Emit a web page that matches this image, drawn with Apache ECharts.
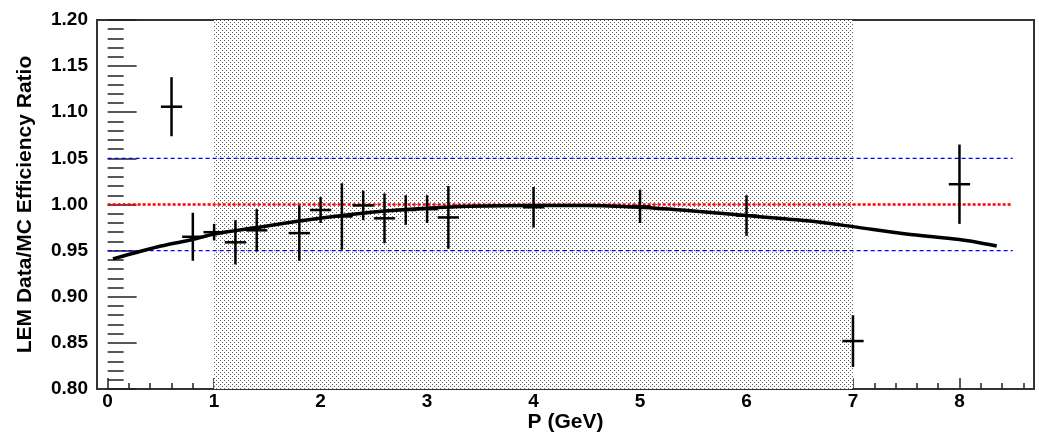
<!DOCTYPE html>
<html>
<head>
<meta charset="utf-8">
<script src="https://cdn.jsdelivr.net/npm/echarts@6/dist/echarts.min.js"></script>
<style>
  html, body { margin: 0; padding: 0; background: #fff; }
  #chart { width: 1039px; height: 436px; }
</style>
</head>
<body>
<div id="chart"></div>
<script>
// Measured efficiency ratio points: momentum, ratio, vertical error, horizontal half-width
const pointP     = [0.6, 0.8, 1.0, 1.2, 1.4, 1.8, 2.0, 2.2, 2.4, 2.6, 2.8, 3.0, 3.2, 4.0, 5.0, 6.0, 7.0, 8.0];
const pointRatio = [1.106, 0.965, 0.970, 0.959, 0.972, 0.969, 0.994, 0.987, 0.999, 0.985, 0.994, 0.995, 0.986, 0.997, 0.998, 0.988, 0.852, 1.022];
const pointErrY  = [0.032, 0.026, 0.009, 0.024, 0.023, 0.030, 0.014, 0.036, 0.016, 0.027, 0.016, 0.015, 0.034, 0.022, 0.018, 0.022, 0.028, 0.043];
const pointErrX  = 0.1;

// Fitted curve samples
const fitP     = [0.05, 0.5, 0.8, 1.0, 1.4, 1.8, 2.2, 2.6, 3.0, 3.4, 4.0, 4.5, 5.0, 5.5, 6.0, 6.3, 6.6, 7.0, 7.5, 8.0, 8.35];
const fitRatio = [0.941, 0.955, 0.962, 0.968, 0.975, 0.982, 0.988, 0.993, 0.996, 0.998, 0.999, 0.999, 0.997, 0.993, 0.988, 0.985, 0.982, 0.976, 0.968, 0.962, 0.955];

// Reference levels and shaded momentum window
const unityLevel = 1.00;
const bandLevels = [1.05, 0.95];
const refRange = [0, 8.5];
const shadeRange = [1, 7];

// Axis ticks
const xMajorTicks = [0, 1, 2, 3, 4, 5, 6, 7, 8];
const xMinorTicks = [];
for (let i = 0; i <= 43; i++) xMinorTicks.push(Math.round(i * 0.2 * 10) / 10);
const xRange = [-0.1, 8.7];
const yRange = [0.80, 1.20];

// Stipple fill for the shaded window
function makeStipple() {
  const c = document.createElement('canvas');
  c.width = 4; c.height = 4;
  const g = c.getContext('2d');
  g.fillStyle = '#ffffff';
  g.fillRect(0, 0, 4, 4);
  g.fillStyle = '#5a5a5a';
  g.fillRect(0, 0, 1, 1);
  g.fillRect(2, 2, 1, 1);
  return c;
}

const FONT = "'Liberation Sans', Arial, Helvetica, sans-serif";

const chart = echarts.init(document.getElementById('chart'), null, { renderer: 'canvas' });

chart.setOption({
  animation: false,
  backgroundColor: '#ffffff',
  grid: {
    left: 97, top: 20, right: 5, bottom: 47,
    outerBoundsMode: 'none', containLabel: false,
    show: true, borderColor: '#333', borderWidth: 2, backgroundColor: 'transparent'
  },
  xAxis: [
    {
      type: 'value', min: xRange[0], max: xRange[1], position: 'bottom',
      name: 'P (GeV)', nameLocation: 'middle', nameGap: 23, nameMoveOverlap: false,
      nameTextStyle: { fontFamily: FONT, fontWeight: 'bold', fontSize: 21, color: '#000' },
      axisLine: { show: false },
      splitLine: { show: false },
      axisTick: { show: true, inside: true, length: 11, customValues: xMajorTicks, lineStyle: { color: '#222', width: 1.5 } },
      axisLabel: { show: true, customValues: xMajorTicks, margin: 3, fontFamily: FONT, fontWeight: 'bold', fontSize: 19, color: '#000' }
    },
    {
      type: 'value', min: xRange[0], max: xRange[1], position: 'bottom',
      axisLine: { show: false },
      splitLine: { show: false },
      axisTick: { show: true, inside: true, length: 6, customValues: xMinorTicks, lineStyle: { color: '#222', width: 1.5 } },
      axisLabel: { show: false }
    }
  ],
  yAxis: {
    type: 'value', min: yRange[0], max: yRange[1], interval: 0.05,
    name: 'LEM Data/MC Efficiency Ratio', nameLocation: 'middle', nameGap: 61, nameMoveOverlap: false,
    nameTextStyle: { fontFamily: FONT, fontWeight: 'bold', fontSize: 21, color: '#000' },
    axisLine: { show: false },
    splitLine: { show: false },
    axisTick: { show: true, inside: true, length: 29, lineStyle: { color: '#222', width: 1.5 } },
    minorTick: { show: true, splitNumber: 5, length: 16, lineStyle: { color: '#222', width: 1.5 } },
    axisLabel: {
      margin: 9, fontFamily: FONT, fontWeight: 'bold', fontSize: 19, color: '#000',
      formatter: v => v.toFixed(2)
    }
  },
  series: [
    {
      // shaded momentum window
      type: 'line', data: [], silent: true, z: 1,
      markArea: {
        silent: true,
        itemStyle: { color: { image: makeStipple(), repeat: 'repeat' } },
        data: [[{ xAxis: shadeRange[0] }, { xAxis: shadeRange[1] }]]
      }
    },
    {
      type: 'line', z: 3, symbol: 'none', silent: true,
      lineStyle: { color: '#0000ff', width: 1.2, type: [4, 3] },
      data: [[refRange[0], bandLevels[0]], [refRange[1], bandLevels[0]]]
    },
    {
      type: 'line', z: 3, symbol: 'none', silent: true,
      lineStyle: { color: '#0000ff', width: 1.2, type: [4, 3] },
      data: [[refRange[0], bandLevels[1]], [refRange[1], bandLevels[1]]]
    },
    {
      type: 'line', z: 3, symbol: 'none', silent: true,
      lineStyle: { color: '#ff0000', width: 2.5, type: [3, 2] },
      data: [[refRange[0], unityLevel], [refRange[1], unityLevel]]
    },
    {
      type: 'line', z: 4, symbol: 'none', silent: true, smooth: 0.3,
      lineStyle: { color: '#000', width: 3.5 },
      data: fitP.map((p, i) => [p, fitRatio[i]])
    },
    {
      type: 'custom', z: 5, silent: true,
      data: pointP.map((p, i) => [p, pointRatio[i], pointErrY[i], pointErrX]),
      renderItem: function (params, api) {
        const x = api.value(0), y = api.value(1), ey = api.value(2), ex = api.value(3);
        const top = api.coord([x, y + ey]);
        const bot = api.coord([x, y - ey]);
        const l = api.coord([x - ex, y]);
        const r = api.coord([x + ex, y]);
        return {
          type: 'group',
          children: [
            { type: 'line', shape: { x1: top[0], y1: top[1], x2: bot[0], y2: bot[1] }, style: { stroke: '#000', lineWidth: 2.5 } },
            { type: 'line', shape: { x1: l[0], y1: l[1], x2: r[0], y2: r[1] }, style: { stroke: '#000', lineWidth: 2.5 } }
          ]
        };
      }
    }
  ]
});
</script>
</body>
</html>
